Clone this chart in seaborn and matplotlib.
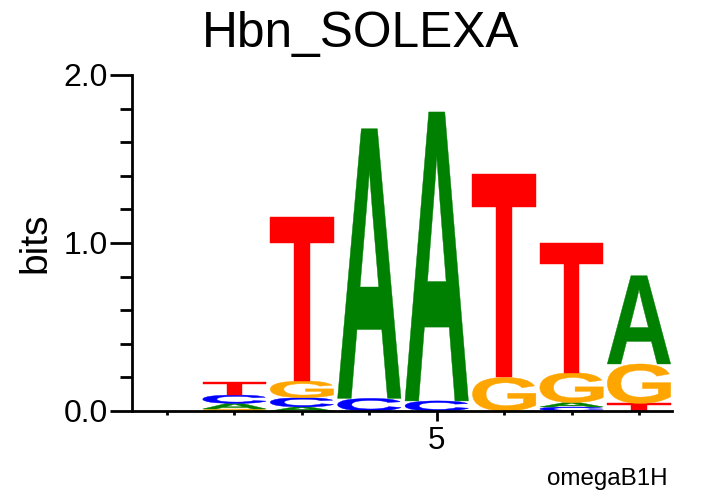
import numpy as np
import pandas as pd
import matplotlib
matplotlib.use("Agg")
import matplotlib.pyplot as plt
import seaborn as sns
from matplotlib.textpath import TextPath
from matplotlib.patches import PathPatch
from matplotlib.font_manager import FontProperties
from matplotlib.transforms import Affine2D

# ---- data (bits per letter per position) ----
positions = [1, 2, 3, 4, 5, 6, 7, 8]
bits_A = [0.0, 0.033, 0.024, 1.605, 1.720, 0.0, 0.026, 0.525]
bits_C = [0.0, 0.050, 0.055, 0.075, 0.060, 0.0, 0.024, 0.0]
bits_G = [0.0, 0.012, 0.100, 0.0, 0.0, 0.200, 0.178, 0.235]
bits_T = [0.0, 0.078, 0.976, 0.0, 0.0, 1.210, 0.772, 0.045]
letter_colors = {"A": "#008000", "C": "#0000FF", "G": "#FFA500", "T": "#FF0000"}
title = "Hbn_SOLEXA"
ylabel = "bits"
footer = "omegaB1H"
ytick_vals = [0, 1, 2]
ytick_labels = ["0.0", "1.0", "2.0"]
xtick_major = [5]
xtick_labels = ["5"]

df = pd.DataFrame({"pos": positions, "A": bits_A, "C": bits_C, "G": bits_G, "T": bits_T})

sns.set_style("ticks")
plt.rcParams["font.family"] = ["Liberation Sans", "DejaVu Sans"]
plt.rcParams["text.color"] = "black"
plt.rcParams["xtick.color"] = "black"
plt.rcParams["ytick.color"] = "black"
plt.rcParams["axes.labelcolor"] = "black"

fig = plt.figure(figsize=(7.21, 4.96), dpi=100)
ax = fig.add_axes([132 / 721, 85 / 496, 540 / 721, 336 / 496])

fp = FontProperties(family="Liberation Sans", weight="bold")


def draw_letter(ax, ch, x, y, w, h, color):
    tp = TextPath((0, 0), ch, size=1, prop=fp)
    bb = tp.get_extents()
    t = (Affine2D().translate(-bb.x0, -bb.y0)
         .scale(w / bb.width, h / bb.height)
         .translate(x - w / 2, y))
    path = t.transform_path(tp)
    ax.add_patch(PathPatch(path, facecolor=color, edgecolor=color, linewidth=0.3, zorder=2))


col_w = 0.94
for _, row in df.iterrows():
    items = sorted([(row[l], l) for l in "ACGT" if row[l] > 0])
    y = 0.0
    for h, l in items:
        draw_letter(ax, l, row["pos"], y, col_w, h, letter_colors[l])
        y += h

ax.set_xlim(0.48, 8.49)
ax.set_ylim(0, 2)
sns.despine(ax=ax)
for s in ["left", "bottom"]:
    ax.spines[s].set_linewidth(2)
    ax.spines[s].set_color("black")
    ax.spines[s].set_zorder(5)

ax.set_yticks(ytick_vals)
ax.set_yticklabels(ytick_labels)
ax.set_yticks([v for v in np.arange(0, 2.01, 0.2) if abs(v - round(v)) > 1e-6], minor=True)
ax.set_xticks(xtick_major)
ax.set_xticklabels(xtick_labels)
ax.set_xticks([p for p in positions if p not in xtick_major], minor=True)

ax.tick_params(axis="y", which="major", length=16, width=2, labelsize=23, pad=1.5,
               color="black", labelcolor="black")
ax.tick_params(axis="y", which="minor", length=8.6, width=2, color="black")
ax.tick_params(axis="x", which="major", length=7, width=2, labelsize=22.5, pad=4,
               color="black", labelcolor="black")
ax.tick_params(axis="x", which="minor", length=3, width=2, color="black")

fig.text(0.5, 1 - 47 / 496, title, ha="center", va="baseline", fontsize=35.7, color="black")
fig.text(35 / 721, 1 - 243 / 496, ylabel, rotation=90, ha="center", va="center",
         fontsize=28, color="black")
fig.text(668 / 721, 1 - 485 / 496, footer, ha="right", va="baseline", fontsize=17.4, color="black")

fig.savefig("out.png", dpi=100)
